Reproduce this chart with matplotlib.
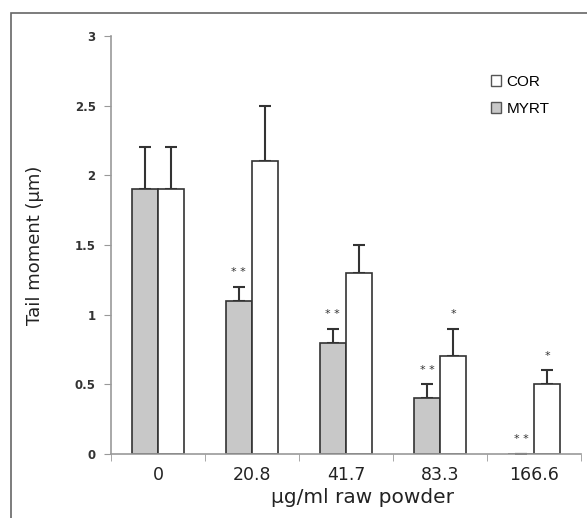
import matplotlib.pyplot as plt
import numpy as np
from matplotlib.patches import Rectangle

doses = ['0', '20.8', '41.7', '83.3', '166.6']
myrt = [1.9, 1.1, 0.8, 0.4, 0.0]
myrt_err = [0.3, 0.1, 0.1, 0.1, 0.0]
cor = [1.9, 2.1, 1.3, 0.7, 0.5]
cor_err = [0.3, 0.4, 0.2, 0.2, 0.1]
myrt_sig = ['', '* *', '* *', '* *', '* *']
cor_sig = ['', '', '', '*', '*']

fig = plt.figure(figsize=(5.87, 5.18), dpi=100)
ax = fig.add_axes([0.189, 0.1236, 0.801, 0.8069])

# outer frame of the original figure (only top and left visible)
fig.patches.append(Rectangle((11/587, -0.1), 2, (518-13)/518 + 0.1, transform=fig.transFigure,
                             fill=False, edgecolor='#666666', linewidth=1.2))

x = np.arange(len(doses))
w = 0.28
edge = '#333333'
ax.bar(x - w/2, myrt, w, color='#c8c8c8', edgecolor=edge, linewidth=1.2, zorder=2)
ax.bar(x + w/2, cor, w, color='white', edgecolor=edge, linewidth=1.2, zorder=2)
ax.errorbar(x - w/2, myrt, yerr=[np.zeros(5), myrt_err], fmt='none', ecolor=edge,
            elinewidth=1.5, capsize=4, capthick=1.5, zorder=1)
ax.errorbar(x + w/2, cor, yerr=[np.zeros(5), cor_err], fmt='none', ecolor=edge,
            elinewidth=1.5, capsize=4, capthick=1.5, zorder=1)

for i in range(len(doses)):
    if myrt_sig[i]:
        ax.text(x[i] - w/2, myrt[i] + myrt_err[i] + 0.07, myrt_sig[i], ha='center',
                va='bottom', fontsize=8, color='#333333')
    if cor_sig[i]:
        ax.text(x[i] + w/2, cor[i] + cor_err[i] + 0.07, cor_sig[i], ha='center',
                va='bottom', fontsize=8, color='#333333')

ax.set_xlim(-0.5, len(doses) - 0.5)
ax.set_ylim(0, 3)
ax.set_yticks([0, 0.5, 1, 1.5, 2, 2.5, 3])
ax.set_yticklabels(['0', '0.5', '1', '1.5', '2', '2.5', '3'], fontsize=8.5,
                   fontweight='bold', color='#333333')
ax.set_xticks(x)
ax.set_xticklabels(doses, fontsize=12.5, color='#222222')
ax.set_xticks(np.arange(len(doses) + 1) - 0.5, minor=True)
ax.tick_params(axis='x', which='major', length=0, pad=9)
ax.tick_params(axis='x', which='minor', length=5, color='#999999')
ax.tick_params(axis='y', length=5, color='#999999', pad=6)
for s in ['top', 'right']:
    ax.spines[s].set_visible(False)
for s in ['left', 'bottom']:
    ax.spines[s].set_color('#999999')
    ax.spines[s].set_linewidth(1.2)

ax.set_ylabel('Tail moment (µm)', fontsize=13, labelpad=22, color='#222222')
ax.set_xlabel('µg/ml raw powder', fontsize=14.5, color='#222222')
ax.xaxis.set_label_coords(0.536, -0.082)

h_cor = Rectangle((0, 0), 1, 1, facecolor='white', edgecolor='#555555')
h_myrt = Rectangle((0, 0), 1, 1, facecolor='#c8c8c8', edgecolor='#555555')
leg = ax.legend([h_cor, h_myrt], ['COR', 'MYRT'], loc='upper left',
                bbox_to_anchor=(0.78, 0.94), frameon=False, handlelength=0.65,
                handleheight=0.65, handletextpad=0.35, labelspacing=0.85,
                prop={'family': 'Liberation Sans', 'size': 11})

fig.savefig('out.png', dpi=100)
